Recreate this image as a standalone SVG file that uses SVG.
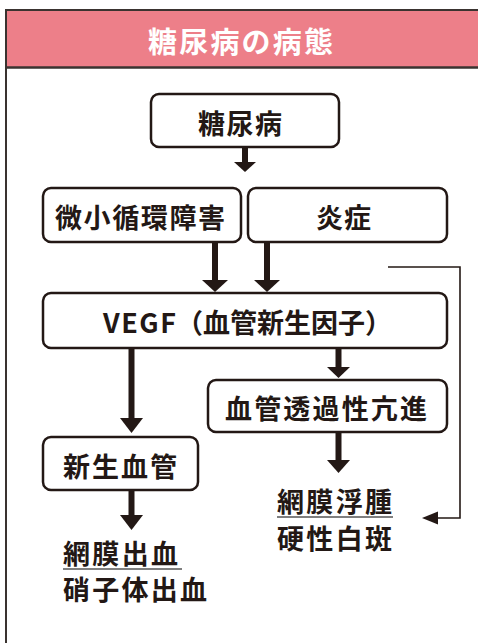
<svg xmlns="http://www.w3.org/2000/svg" width="478" height="643" viewBox="0 0 478 643">
<style>
.box{fill:#fff;stroke:#231815;stroke-width:2.5}
.t{font-family:"Noto Sans CJK JP","Noto Sans",sans-serif;font-weight:700;font-size:27px;fill:#231815;dominant-baseline:central}
.shaft{stroke:#231815;stroke-width:6;fill:none}
.head{fill:#231815}
.thin{stroke:#231815;stroke-width:1.6;fill:none}
</style>
<rect width="478" height="643" fill="#fff"/>
<g id="frame">
<rect x="6" y="10" width="480" height="57" fill="#ED7F89"/>
<path d="M478 10 H6 V643" fill="none" stroke="#3a3330" stroke-width="2"/>
<line x1="6" y1="67.5" x2="478" y2="67.5" stroke="#3a3330" stroke-width="2.5"/>
<text class="t" x="148" y="40" textLength="185" lengthAdjust="spacing" style="fill:#fff;font-size:29px">糖尿病の病態</text>
</g>
<g id="connectors">
<line class="shaft" x1="245" y1="147" x2="245" y2="163"/>
<polygon class="head" points="234,162 256,162 245,172"/>
<line class="shaft" x1="215" y1="242" x2="215" y2="281"/>
<polygon class="head" points="202,280 228,280 215,292"/>
<line class="shaft" x1="267" y1="242" x2="267" y2="281"/>
<polygon class="head" points="254,280 280,280 267,292"/>
<line class="shaft" x1="338.5" y1="348" x2="338.5" y2="368"/>
<polygon class="head" points="327,367 350,367 338.5,378"/>
<line class="shaft" x1="131.5" y1="348" x2="131.5" y2="419"/>
<polygon class="head" points="120,418 143,418 131.5,433"/>
<line class="shaft" x1="131.5" y1="490" x2="131.5" y2="516"/>
<polygon class="head" points="120,515 143,515 131.5,530"/>
<line class="shaft" x1="338.5" y1="432" x2="338.5" y2="461"/>
<polygon class="head" points="327,460 350,460 338.5,473"/>
<polyline class="thin" points="388,267 460,267 460,518 436,518"/>
<polygon class="head" points="438,511.5 438,524.5 422,518"/>
</g>
<g id="n-diabetes">
<rect class="box" x="151" y="94" width="188" height="53" rx="8"/>
<text class="t" x="198" y="122" textLength="84" lengthAdjust="spacing">糖尿病</text>
</g>
<g id="n-micro">
<rect class="box" x="43" y="188" width="198" height="54" rx="8"/>
<text class="t" x="55" y="216" textLength="170" lengthAdjust="spacing">微小循環障害</text>
</g>
<g id="n-inflam">
<rect class="box" x="248" y="188" width="199" height="54" rx="8"/>
<text class="t" x="316" y="216" textLength="55" lengthAdjust="spacing">炎症</text>
</g>
<g id="n-vegf">
<rect class="box" x="43" y="293" width="404" height="55" rx="8"/>
<text class="t" y="321"><tspan x="103" textLength="73" lengthAdjust="spacing">VEGF</tspan><tspan x="176">（血管新生因子）</tspan></text>
</g>
<g id="n-perm">
<rect class="box" x="208" y="380" width="239" height="52" rx="8"/>
<text class="t" x="225" y="407" textLength="202" lengthAdjust="spacing">血管透過性亢進</text>
</g>
<g id="n-neovasc">
<rect class="box" x="43" y="437" width="155" height="53" rx="8"/>
<text class="t" x="63" y="465" textLength="114" lengthAdjust="spacing">新生血管</text>
</g>
<g id="n-hemorrhage">
<text class="t" x="63" y="552" textLength="115" lengthAdjust="spacing">網膜出血</text>
<line class="thin" x1="63" y1="569" x2="182" y2="569" style="stroke:#555"/>
<text class="t" x="63" y="588" textLength="144" lengthAdjust="spacing">硝子体出血</text>
</g>
<g id="n-edema">
<text class="t" x="277" y="500" textLength="115" lengthAdjust="spacing">網膜浮腫</text>
<line class="thin" x1="277" y1="517" x2="393" y2="517" style="stroke:#555"/>
<text class="t" x="277" y="537" textLength="115" lengthAdjust="spacing">硬性白斑</text>
</g>
</svg>
